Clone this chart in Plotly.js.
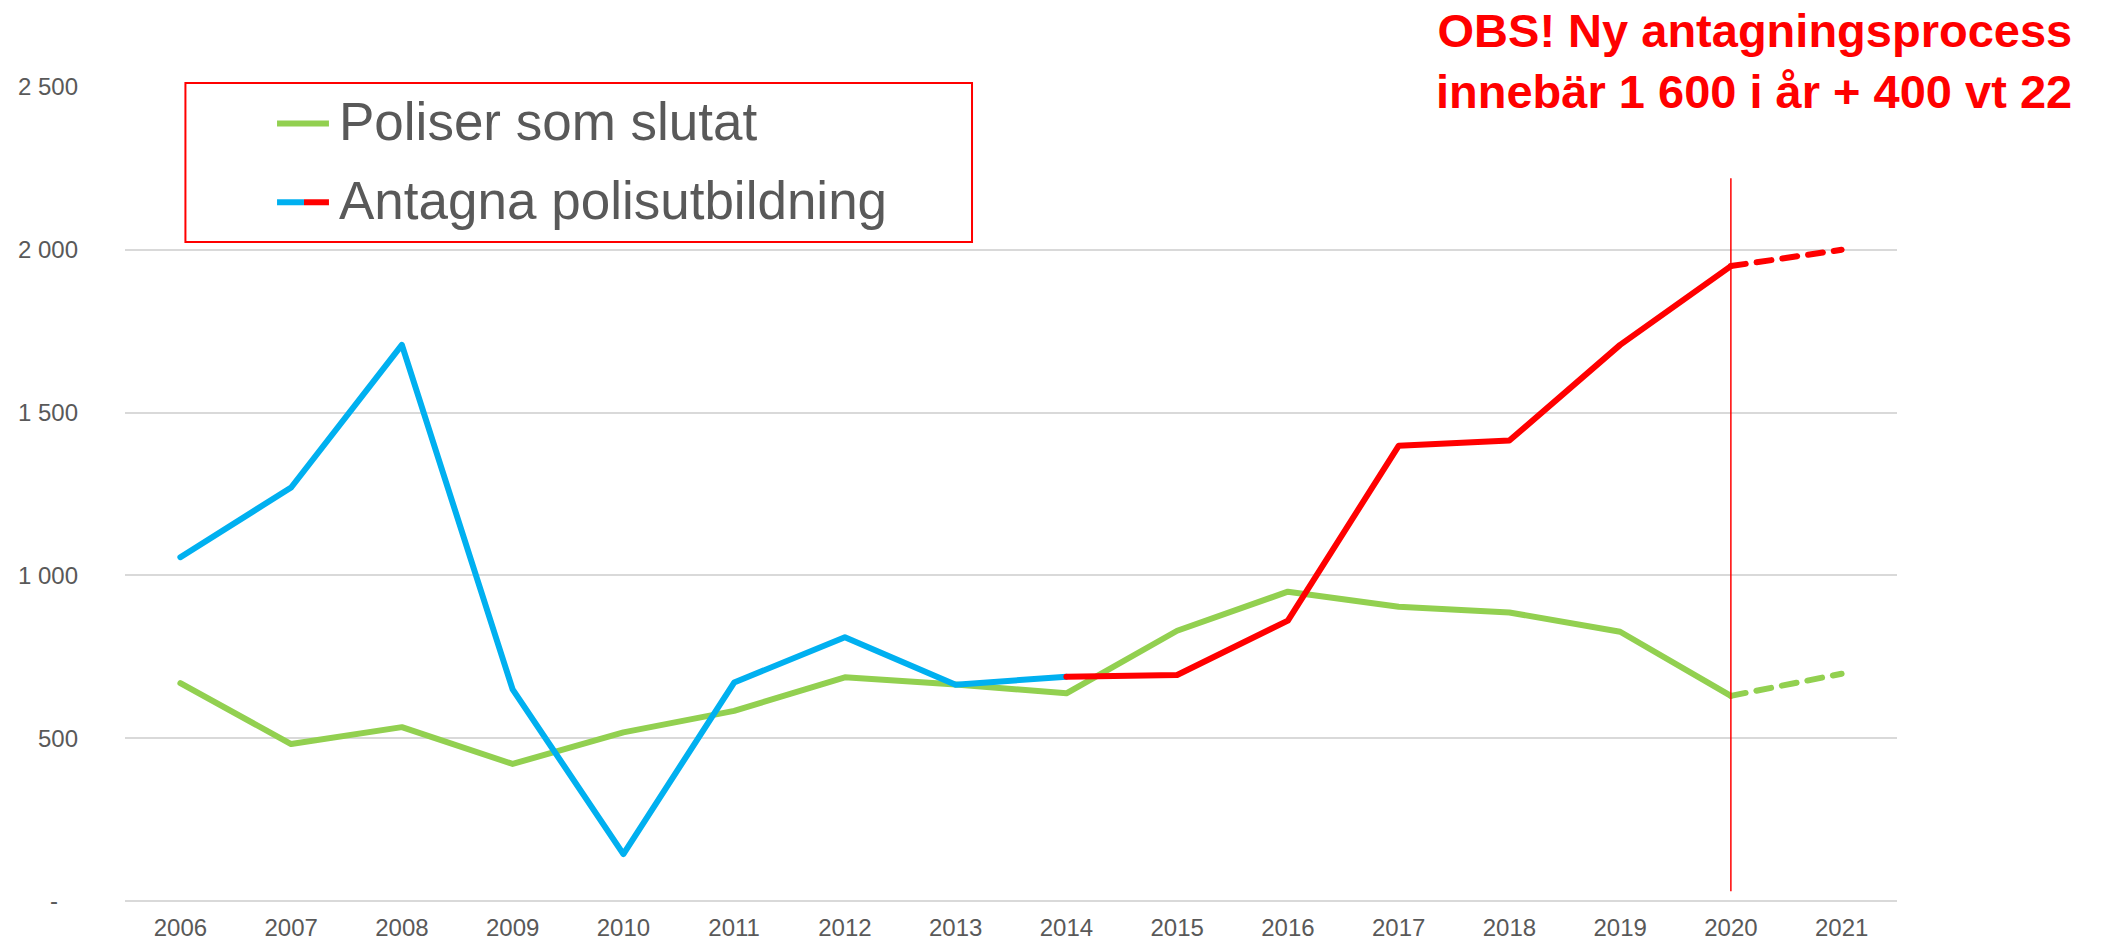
<!DOCTYPE html>
<html>
<head>
<meta charset="utf-8">
<script src="https://cdn.plot.ly/plotly-3.0.1.min.js"></script>
<style>
  html, body { margin: 0; padding: 0; background: #fff; }
  #chart { width: 2108px; height: 944px; }
  .scatterlayer .js-line { stroke-linecap: round; stroke-linejoin: round; }
</style>
</head>
<body>
<div id="chart"></div>
<script>
// ---- data ----
const years = ["2006","2007","2008","2009","2010","2011","2012","2013","2014","2015","2016","2017","2018","2019","2020","2021"];
const poliserSomSlutat = [669, 482, 534, 421, 518, 584, 687, 665, 638, 830, 950, 904, 886, 827, 630, 698];
const antagnaPolisutbildning = [1056, 1270, 1708, 650, 144, 671, 810, 664, 689, 694, 861, 1398, 1414, 1708, 1950, 2000];
const yTickVals = [0, 500, 1000, 1500, 2000, 2500];
const yTickText = ["-\u00a0\u00a0\u00a0", "500", "1 000", "1 500", "2 000", "2 500"];
const legendLabels = ["Poliser som slutat", "Antagna polisutbildning"];
const noteLines = ["OBS! Ny antagningsprocess", "innebär 1 600 i år + 400 vt 22"];
const blueEnd = 8;        // index of 2014: blue until here, red afterwards
const forecastStart = 14; // index of 2020: dashed afterwards

// ---- styling ----
const GREEN = "#92D050", BLUE = "#00B0F0", RED = "#FF0000", GREY = "#595959", GRID = "#D9D9D9";
const FONT = "Liberation Sans, Arial, sans-serif";
const LW = 6;

const traces = [
  { x: years.slice(0, forecastStart + 1), y: poliserSomSlutat.slice(0, forecastStart + 1),
    mode: "lines", line: { color: GREEN, width: LW } },
  { x: years.slice(forecastStart), y: poliserSomSlutat.slice(forecastStart),
    mode: "lines", line: { color: GREEN, width: LW, dash: "15px,11px" } },
  { x: years.slice(0, blueEnd + 1), y: antagnaPolisutbildning.slice(0, blueEnd + 1),
    mode: "lines", line: { color: BLUE, width: LW } },
  { x: years.slice(blueEnd, forecastStart + 1), y: antagnaPolisutbildning.slice(blueEnd, forecastStart + 1),
    mode: "lines", line: { color: RED, width: LW } },
  { x: years.slice(forecastStart), y: antagnaPolisutbildning.slice(forecastStart),
    mode: "lines", line: { color: RED, width: LW, dash: "15px,11px" } }
];

const layout = {
  width: 2108, height: 944,
  margin: { l: 125, r: 211, t: 87, b: 43, pad: 0 },
  paper_bgcolor: "#fff", plot_bgcolor: "#fff",
  showlegend: false,
  font: { family: FONT, color: GREY, size: 24 },
  xaxis: {
    type: "category", range: [-0.5, 15.5], showgrid: false, zeroline: false,
    showline: false, ticks: "", tickfont: { size: 24, color: GREY },
    ticklabelstandoff: 10, fixedrange: true
  },
  yaxis: {
    range: [0, 2500], tickvals: yTickVals, ticktext: yTickText,
    showgrid: true, gridcolor: GRID, gridwidth: 2,
    zeroline: true, zerolinecolor: GRID, zerolinewidth: 2,
    showline: false, ticks: "", tickfont: { size: 24, color: GREY },
    ticklabelstandoff: 46, fixedrange: true
  },
  shapes: [
    // red vertical marker at 2020 (category index)
    { type: "line", xref: "x", yref: "y", x0: forecastStart, x1: forecastStart, y0: 30, y1: 2220,
      layer: "above", line: { color: RED, width: 1.5 } },
    // legend frame
    { type: "rect", xref: "paper", yref: "paper", x0: 0.0341, x1: 0.478, y0: 0.8096, y1: 1.005,
      line: { color: RED, width: 2 }, fillcolor: "rgba(0,0,0,0)" },
    // legend samples
    { type: "line", xref: "paper", yref: "paper", x0: 0.0858, x1: 0.1151, y0: 0.9552, y1: 0.9552,
      line: { color: GREEN, width: LW } },
    { type: "line", xref: "paper", yref: "paper", x0: 0.0858, x1: 0.1010, y0: 0.8584, y1: 0.8584,
      line: { color: BLUE, width: LW } },
    { type: "line", xref: "paper", yref: "paper", x0: 0.1010, x1: 0.1151, y0: 0.8584, y1: 0.8584,
      line: { color: RED, width: LW } }
  ],
  annotations: [
    { xref: "paper", yref: "paper", x: 0.1196, y: 0.9576, xanchor: "left", yanchor: "middle",
      text: legendLabels[0], showarrow: false, font: { family: FONT, size: 53, color: GREY } },
    { xref: "paper", yref: "paper", x: 0.1196, y: 0.8605, xanchor: "left", yanchor: "middle",
      text: legendLabels[1], showarrow: false, font: { family: FONT, size: 53, color: GREY } },
    { xref: "paper", yref: "paper", x: 1.0999, y: 1.104, xanchor: "right", yanchor: "top", align: "right",
      text: "<b>" + noteLines[0] + "</b><br><b>" + noteLines[1] + "</b>", showarrow: false,
      font: { family: FONT, size: 47, color: RED } }
  ]
};

Plotly.newPlot("chart", traces, layout, { staticPlot: true, displayModeBar: false });
</script>
</body>
</html>
